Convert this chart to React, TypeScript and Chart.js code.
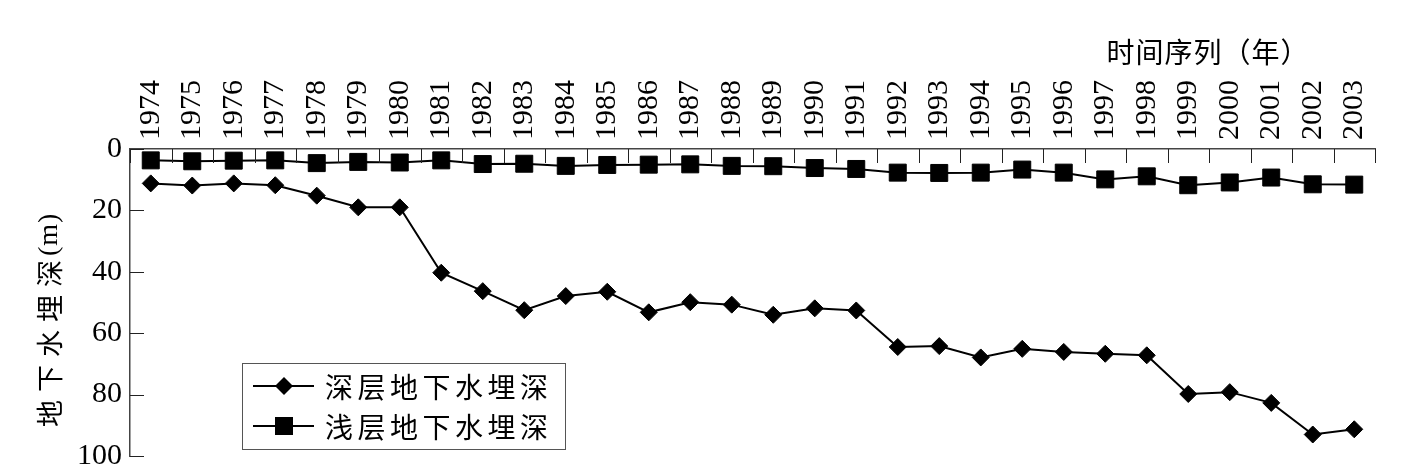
import React, { useEffect, useRef } from 'react';
import { Chart, registerables } from 'chart.js';

Chart.register(...registerables);

const years = [
  '1974', '1975', '1976', '1977', '1978', '1979', '1980', '1981', '1982', '1983',
  '1984', '1985', '1986', '1987', '1988', '1989', '1990', '1991', '1992', '1993',
  '1994', '1995', '1996', '1997', '1998', '1999', '2000', '2001', '2002', '2003',
];

const deepDepth = [
  11.2, 11.9, 11.2, 11.8, 15.2, 19.0, 19.0, 40.3, 46.3, 52.5,
  47.9, 46.5, 53.2, 49.9, 50.7, 54.0, 51.9, 52.6, 64.5, 64.2,
  67.9, 65.1, 66.1, 66.7, 67.2, 79.8, 79.2, 82.7, 93.0, 91.3,
];

const shallowDepth = [
  3.7, 4.0, 3.8, 3.7, 4.6, 4.2, 4.4, 3.7, 4.9, 4.8,
  5.5, 5.2, 5.1, 5.0, 5.5, 5.6, 6.2, 6.5, 7.7, 7.8,
  7.7, 6.7, 7.7, 9.9, 8.9, 11.8, 10.9, 9.3, 11.5, 11.6,
];

const yTicks = [0, 20, 40, 60, 80, 100];
const seriesNames = ['深层地下水埋深', '浅层地下水埋深'];
const xAxisTitle = '时间序列（年）';
const yAxisTitle = '地下水埋深(m)';

const NUM_FONT = '"Liberation Serif", "DejaVu Serif", serif';
const CJK_FONT = '"Noto Sans CJK SC", "Noto Sans", sans-serif';

function drawMarker(ctx: CanvasRenderingContext2D, style: string, cx: number, cy: number) {
  ctx.beginPath();
  if (style === 'rectRot') {
    const r = 9;
    ctx.moveTo(cx, cy - r);
    ctx.lineTo(cx + r, cy);
    ctx.lineTo(cx, cy + r);
    ctx.lineTo(cx - r, cy);
    ctx.closePath();
  } else {
    const h = 9;
    ctx.rect(cx - h, cy - h, 2 * h, 2 * h);
  }
  ctx.fill();
}

const decorPlugin = {
  id: 'decor',
  afterDraw(chart: any) {
    const { ctx, chartArea, scales } = chart;
    const { left, top, right, bottom } = chartArea;
    const x = scales.x;
    const y = scales.y;
    ctx.save();
    // inward tick marks
    ctx.strokeStyle = '#222';
    ctx.lineWidth = 1;
    ctx.beginPath();
    for (let i = 0; i <= years.length; i++) {
      const px = Math.round(x.getPixelForValue(i - 0.5)) + 0.5;
      ctx.moveTo(px, top);
      ctx.lineTo(px, top + 14);
    }
    for (const v of yTicks) {
      const py = Math.round(y.getPixelForValue(v)) + 0.5;
      ctx.moveTo(left, py);
      ctx.lineTo(left + 14, py);
    }
    ctx.stroke();

    // x axis title
    ctx.fillStyle = '#000';
    ctx.font = `28px ${CJK_FONT}`;
    (ctx as any).letterSpacing = '1px';
    ctx.textAlign = 'center';
    ctx.textBaseline = 'middle';
    ctx.fillText(xAxisTitle, right - 167, 52);

    // y axis title (CJK part spaced, unit part tight), reading bottom to top
    ctx.save();
    ctx.translate(50, bottom - 29);
    ctx.rotate(-Math.PI / 2);
    ctx.textAlign = 'left';
    ctx.textBaseline = 'middle';
    const cut = yAxisTitle.indexOf('(');
    const cjkPart = cut >= 0 ? yAxisTitle.slice(0, cut) : yAxisTitle;
    const unitPart = cut >= 0 ? yAxisTitle.slice(cut) : '';
    ctx.font = `27px ${CJK_FONT}`;
    (ctx as any).letterSpacing = '8px';
    ctx.fillText(cjkPart, 0, 0);
    const w1 = ctx.measureText(cjkPart).width;
    (ctx as any).letterSpacing = '1px';
    ctx.font = `28px ${NUM_FONT}`;
    ctx.fillText(unitPart, w1 - 4, 0);
    ctx.restore();

    // legend
    const bx = left + 112;
    const by = bottom - 93;
    ctx.strokeStyle = '#555';
    ctx.lineWidth = 1;
    ctx.strokeRect(bx + 0.5, by + 0.5, 323, 86);
    const rows = [by + 23, by + 63];
    chart.data.datasets.forEach((ds: any, i: number) => {
      const cy = rows[i];
      ctx.strokeStyle = '#000';
      ctx.lineWidth = 2;
      ctx.beginPath();
      ctx.moveTo(bx + 11, cy);
      ctx.lineTo(bx + 72, cy);
      ctx.stroke();
      ctx.fillStyle = '#000';
      drawMarker(ctx, ds.pointStyle, bx + 42, cy);
      ctx.font = `28px ${CJK_FONT}`;
      (ctx as any).letterSpacing = '4.5px';
      ctx.textAlign = 'left';
      ctx.textBaseline = 'middle';
      ctx.fillText(ds.label, bx + 83, cy + 1);
    });
    (ctx as any).letterSpacing = '0px';
    ctx.restore();
  },
};

export default function App() {
  const ref = useRef<HTMLCanvasElement>(null);
  useEffect(() => {
    const canvas = ref.current;
    if (!canvas) return;
    const chart = new Chart(canvas, {
      type: 'line',
      data: {
        labels: years,
        datasets: [
          {
            label: seriesNames[0],
            data: deepDepth,
            borderColor: '#000',
            backgroundColor: '#000',
            borderWidth: 2,
            pointStyle: 'rectRot',
            pointRadius: 8.5,
            pointBorderWidth: 1,
            pointBackgroundColor: '#000',
            pointBorderColor: '#000',
            tension: 0,
            clip: false as any,
          },
          {
            label: seriesNames[1],
            data: shallowDepth,
            borderColor: '#000',
            backgroundColor: '#000',
            borderWidth: 2,
            pointStyle: 'rect',
            pointRadius: 12,
            pointBorderWidth: 1,
            pointBackgroundColor: '#000',
            pointBorderColor: '#000',
            tension: 0,
            clip: false as any,
          },
        ],
      },
      options: {
        responsive: false,
        animation: false,
        devicePixelRatio: 1,
        layout: { padding: { left: 0, top: 0, right: 42, bottom: 10 } },
        plugins: {
          legend: { display: false },
          tooltip: { enabled: false },
          title: { display: false },
        },
        scales: {
          x: {
            type: 'category',
            position: 'top',
            offset: true,
            grid: { display: false, drawTicks: false },
            border: { display: true, color: '#444', width: 1.5 },
            ticks: {
              autoSkip: false,
              minRotation: 90,
              maxRotation: 90,
              padding: 9,
              color: '#000',
              font: { family: NUM_FONT, size: 30, lineHeight: 0 },
            },
            afterFit: (s: any) => {
              s.height = 149;
              s.paddingLeft = 0;
              s.paddingRight = 0;
              s.paddingTop = 0;
              s.paddingBottom = 0;
            },
          },
          y: {
            type: 'linear',
            position: 'left',
            reverse: true,
            min: 0,
            max: 100,
            grid: { display: false, drawTicks: false },
            border: { display: true, color: '#444', width: 1.5 },
            ticks: {
              stepSize: 20,
              padding: 8,
              color: '#000',
              font: { family: NUM_FONT, size: 30, lineHeight: 0.6 },
            },
            afterBuildTicks: (s: any) => {
              s.ticks = yTicks.map((v) => ({ value: v }));
            },
            afterFit: (s: any) => {
              s.width = 130;
              s.paddingLeft = 0;
              s.paddingRight = 0;
              s.paddingTop = 0;
              s.paddingBottom = 0;
            },
          },
        },
      },
      plugins: [decorPlugin],
    });
    return () => chart.destroy();
  }, []);

  return (
    <div style={{ position: 'fixed', left: 0, top: 0, width: 1417, height: 469, background: '#fff' }}>
      <canvas ref={ref} width={1417} height={469} style={{ width: 1417, height: 469, display: 'block' }} />
    </div>
  );
}
